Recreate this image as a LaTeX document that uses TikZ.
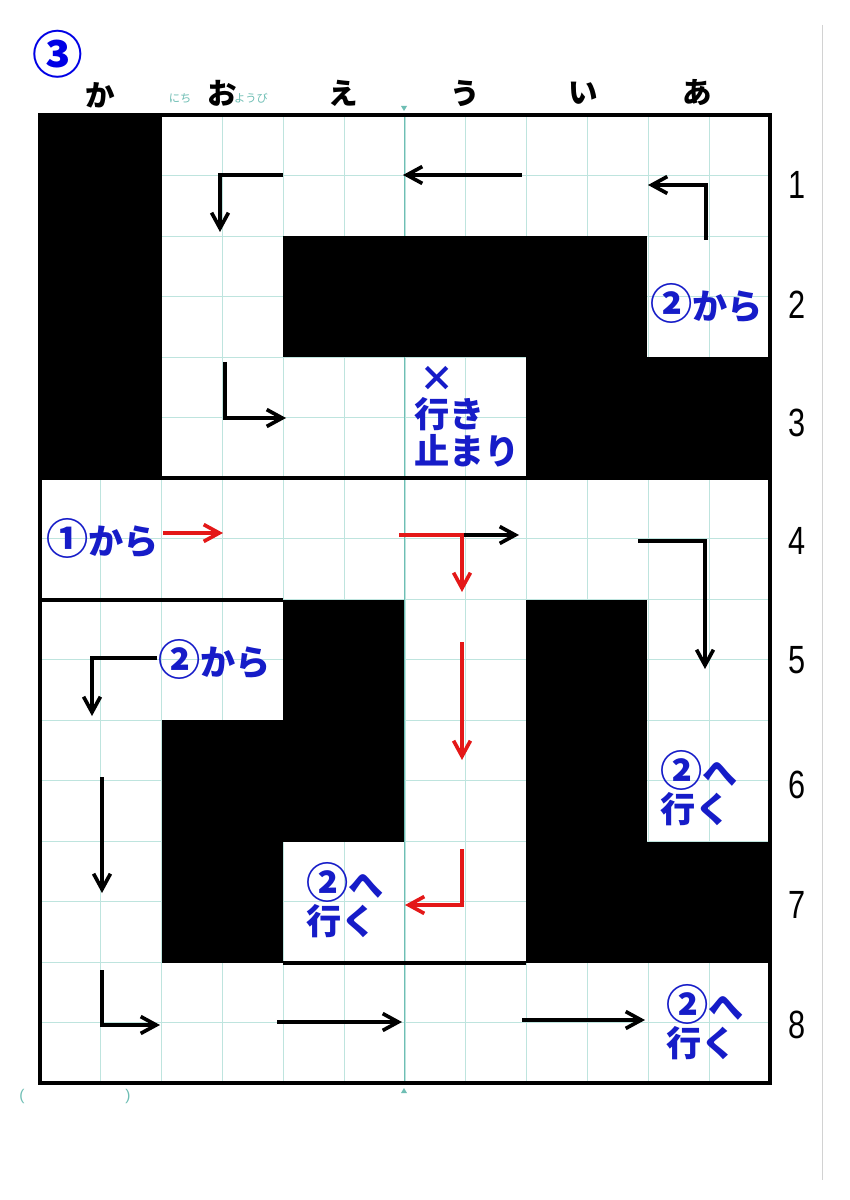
\documentclass[tikz,border=0pt]{standalone}
\usepackage{fontspec}
\usepackage{xcolor}
\usetikzlibrary{arrows.meta}
\setmainfont{Liberation Sans}
\newfontfamily\jp{Noto Sans CJK JP}

\definecolor{gridteal}{RGB}{190,228,222}
\definecolor{markteal}{RGB}{110,190,180}
\definecolor{noteblue}{RGB}{22,28,200}
\definecolor{routered}{RGB}{228,24,24}

% enlarged circled digit
\newcommand{\circnum}[1]{{\fontsize{30}{26}\selectfont #1}}

\begin{document}
\begin{tikzpicture}[
    x=0.025cm, y=-0.025cm,
    wall/.style={fill=black},
    frame/.style={line width=3pt},
    route/.style={line width=2.6pt, -{Straight Barb[length=11pt, width=12pt]}},
    redroute/.style={route, draw=routered},
    note/.style={text=noteblue, font=\jp\bfseries\fontsize{25}{26}\selectfont, align=left, inner sep=0pt, anchor=west},
    colname/.style={font=\jp\bfseries\fontsize{21}{21}\selectfont, inner sep=0pt},
    rownum/.style={font=\fontsize{28}{28}\selectfont, inner sep=0pt, xscale=0.78},
    tiny/.style={text=markteal, font=\jp\fontsize{8}{8}\selectfont, inner sep=0pt}
]
    \fill[white] (0,0) rectangle (849,1200);
    \useasboundingbox (0,0) rectangle (849,1200);

    % paper grid
    \foreach \k in {0,...,12}
        \draw[gridteal, line width=0.6pt] (40+60.83*\k,115) -- (40+60.83*\k,1083);
    \foreach \k in {0,...,16}
        \draw[gridteal, line width=0.6pt] (40,115+60.5*\k) -- (770,115+60.5*\k);
    \draw[markteal, line width=0.6pt] (404,115) -- (404,1083);
    \fill[markteal] (401,106) -- (407,106) -- (404,111) -- cycle;
    \fill[markteal] (401,1093) -- (407,1093) -- (404,1088) -- cycle;
    \draw[gray!35, line width=0.6pt] (822,25) -- (822,1180);

    % walls
    \fill[wall] (40,115) rectangle (162,478);
    \fill[wall] (283,236) rectangle (647,357);
    \fill[wall] (526,357) rectangle (770,478);
    \fill[wall] (283,600) rectangle (404,842);
    \fill[wall] (162,720) rectangle (283,963);
    \fill[wall] (526,600) rectangle (647,963);
    \fill[wall] (647,842) rectangle (772,963);

    % frame
    \draw[frame] (40,115) -- (770,115) -- (770,1083) -- (40,1083) -- cycle;
    \draw[frame] (40,478) -- (770,478);
    \draw[frame] (40,600) -- (283,600);
    \draw[frame] (283,963) -- (526,963);

    % title and column names
    \node[text=blue!90!black, font=\jp\bfseries\fontsize{36}{36}\selectfont, inner sep=0pt] (title) at (58,54) {③};
    \node[colname] (ka) at (100,95) {か};
    \node[colname] (o) at (222,93) {お};
    \node[colname] (e) at (343,93) {え};
    \node[colname] (u) at (465,93) {う};
    \node[colname] (i) at (583,93) {い};
    \node[colname] (a) at (697,93) {あ};
    \node[tiny] (nichi) at (180,98) {にち};
    \node[tiny] (youbi) at (251,98) {ようび};
    \node[tiny, font=\fontsize{11}{11}\selectfont] (lpar) at (22,1096) {(};
    \node[tiny, font=\fontsize{11}{11}\selectfont] (rpar) at (128,1096) {)};

    % row numbers
    \foreach \n/\y in {1/185, 2/305, 3/423, 4/541, 5/660, 6/785, 7/905, 8/1025}
        \node[rownum] (row\n) at (797,\y) {\n};

    % notes
    \node[note] (from2a) at (650,303) {\circnum{②}から};
    \node[note, anchor=north west] (dead) at (414,366) {\hspace{0.15em}×\\行き\\止まり};
    \node[note] (from1) at (46,538) {\circnum{①}から};
    \node[note] (from2b) at (158,659) {\circnum{②}から};
    \node[note] (to2a) at (660,788) {\circnum{②}へ\\行く};
    \node[note] (to2b) at (306,900) {\circnum{②}へ\\行く};
    \node[note] (to2c) at (666,1022) {\circnum{②}へ\\行く};

    % black route
    \draw[route] (283,175) -| (220,232);
    \draw[route] (522,175) -- (403,175);
    \draw[route] (706,240) |- (648,185);
    \draw[route] (225,362) |- (286,418);
    \draw[route] (462,535) -- (519,535);
    \draw[route] (638,541) -| (705,669);
    \draw[route] (157,658) -| (92,716);
    \draw[route] (102,777) -- (102,893);
    \draw[route] (102,970) |- (160,1025);
    \draw[route] (277,1022) -- (402,1022);
    \draw[route] (522,1020) -- (645,1020);

    % red route
    \draw[redroute] (163,533) -- (223,533);
    \draw[redroute] (399,535) -| (462,592);
    \draw[redroute] (462,642) -- (462,760);
    \draw[redroute] (462,849) |- (405,905);
\end{tikzpicture}
\end{document}
